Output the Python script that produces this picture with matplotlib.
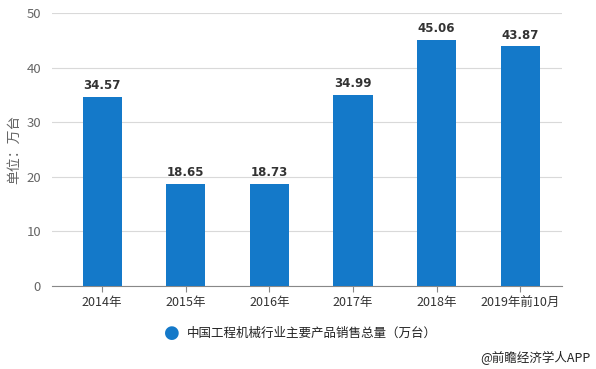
import matplotlib.pyplot as plt
import numpy as np

plt.rcParams['font.family'] = ['Noto Sans CJK SC', 'DejaVu Sans']

categories = ["2014年", "2015年", "2016年", "2017年", "2018年", "2019年前10月"]
sales = [34.57, 18.65, 18.73, 34.99, 45.06, 43.87]
series_name = "中国工程机械行业主要产品销售总量（万台）"

bar_color = "#1479c9"
grey = "#666666"

fig = plt.figure(figsize=(5.96, 3.69), dpi=100)
ax = fig.add_axes([0.0873, 0.225, 0.8557, 0.74])

x = np.arange(len(categories))
ax.bar(x, sales, width=0.47, color=bar_color, zorder=3)

for xi, v in zip(x, sales):
    ax.annotate(f"{v:.2f}", (xi, v), xytext=(0, 3.5), textcoords="offset points",
                ha="center", va="bottom", fontsize=8.5, fontweight="bold",
                color="#333333", family="DejaVu Sans")

ax.set_xlim(-0.6, len(categories) - 0.5)
ax.set_ylim(0, 50)
ax.set_yticks(range(0, 51, 10))
ax.set_xticks(x)
ax.set_xticklabels(categories, fontsize=9, color="#333333")
ax.tick_params(axis="y", length=0, labelsize=9.5, labelcolor=grey, pad=8)
ax.tick_params(axis="x", length=4, color="#888888", pad=3)
ax.grid(axis="y", color="#d9d9d9", linewidth=0.8, zorder=0)
for s in ["top", "right", "left"]:
    ax.spines[s].set_visible(False)
ax.spines["bottom"].set_color("#888888")
ax.set_ylabel("单位：万台", fontsize=10, color=grey, labelpad=4)

fig.text(0.289, 0.098, "●", color=bar_color, fontsize=13, ha="center", va="center",
         family="DejaVu Sans")
fig.text(0.313, 0.098, series_name, fontsize=9, fontweight="medium",
         color="#222222", ha="left", va="center")

fig.text(0.99, 0.012, "@前瞻经济学人APP", ha="right", va="bottom", fontsize=9, color="#222222")

fig.savefig("out.png", dpi=100)
